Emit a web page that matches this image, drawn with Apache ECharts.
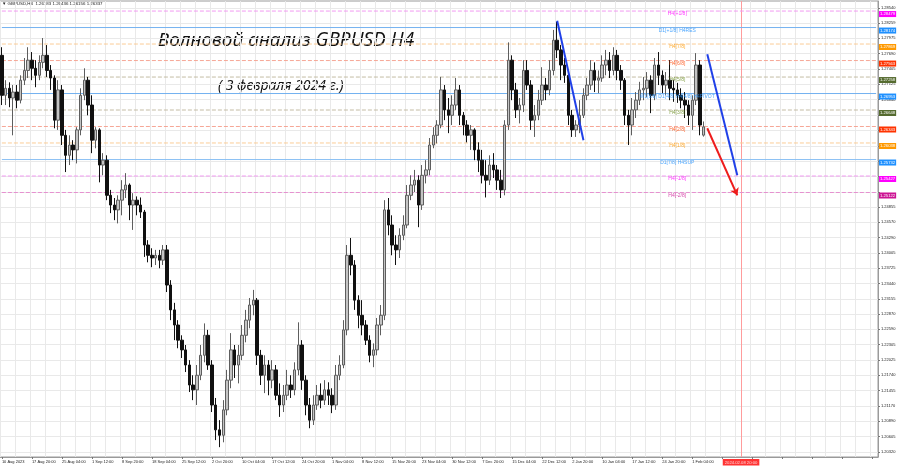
<!DOCTYPE html>
<html><head><meta charset="utf-8">
<script src="https://cdn.jsdelivr.net/npm/echarts@6/dist/echarts.min.js"></script>
<style>html,body{margin:0;padding:0;background:#fff}#c{width:900px;height:468px}</style>
</head><body><div id="c"></div>
<script>
// ---- data ----
const xLabels = ['10 Aug 2023','17 Aug 20:00','25 Aug 04:00','1 Sep 12:00','8 Sep 20:00','18 Sep 04:00','25 Sep 12:00','2 Oct 20:00','10 Oct 04:00','17 Oct 12:00','24 Oct 20:00','1 Nov 04:00','8 Nov 12:00','15 Nov 20:00','23 Nov 04:00','30 Nov 12:00','7 Dec 20:00','15 Dec 04:00','22 Dec 12:00','2 Jan 20:00','10 Jan 04:00','17 Jan 12:00','24 Jan 20:00','1 Feb 04:00'];
const futureMarkLabel = '2024.02.08 20:00';
const futureMarkIndex = 197;
const totalSlots = 234;
const priceMin = 1.20228;
const priceMax = 1.28665;

const opens = [1.2766,1.2692,1.2705,1.2687,1.2698,1.2683,1.2720,1.2738,1.2757,1.2742,1.2729,1.2753,1.2766,1.2738,1.2724,1.2646,1.2702,1.2618,1.2581,1.2600,
1.2591,1.2628,1.2692,1.2720,1.2674,1.2609,1.2628,1.2563,1.2572,1.2507,1.2489,1.2480,1.2498,1.2517,1.2526,1.2489,1.2498,1.2489,1.2476,1.2415,
1.2396,1.2391,1.2396,1.2387,1.2406,1.2341,1.2295,1.2267,1.2239,1.2221,1.2193,1.2156,1.2147,1.2174,1.2211,1.2248,1.2193,1.2119,1.2073,1.2063,
1.2110,1.2165,1.2221,1.2193,1.2211,1.2248,1.2276,1.2304,1.2313,1.2211,1.2174,1.2193,1.2165,1.2184,1.2137,1.2119,1.2137,1.2156,1.2147,1.2184,
1.2230,1.2165,1.2119,1.2091,1.2119,1.2137,1.2128,1.2147,1.2137,1.2119,1.2174,1.2193,1.2258,1.2396,1.2378,1.2313,1.2285,1.2267,1.2239,1.2211,
1.2221,1.2267,1.2285,1.2480,1.2452,1.2415,1.2406,1.2433,1.2452,1.2507,1.2526,1.2535,1.2489,1.2544,1.2554,1.2600,1.2618,1.2637,1.2702,1.2665,
1.2655,1.2674,1.2702,1.2655,1.2637,1.2618,1.2628,1.2591,1.2572,1.2544,1.2535,1.2563,1.2554,1.2535,1.2517,1.2637,1.2757,1.2702,1.2665,1.2674,
1.2738,1.2711,1.2646,1.2655,1.2683,1.2711,1.2702,1.2738,1.2794,1.2776,1.2748,1.2729,1.2655,1.2628,1.2637,1.2655,1.2692,1.2711,1.2738,1.2720,
1.2724,1.2748,1.2757,1.2738,1.2766,1.2738,1.2720,1.2655,1.2637,1.2665,1.2683,1.2702,1.2705,1.2720,1.2692,1.2748,1.2729,1.2711,1.2720,1.2705,
1.2702,1.2692,1.2683,1.2674,1.2655,1.2683,1.2748,1.26183];
const closes = [1.2692,1.2705,1.2687,1.2698,1.2683,1.2720,1.2738,1.2757,1.2742,1.2729,1.2753,1.2766,1.2738,1.2724,1.2646,1.2702,1.2618,1.2581,1.2600,1.2591,
1.2628,1.2692,1.2720,1.2674,1.2609,1.2628,1.2563,1.2572,1.2507,1.2489,1.2480,1.2498,1.2517,1.2526,1.2489,1.2498,1.2489,1.2476,1.2415,1.2396,
1.2391,1.2396,1.2387,1.2406,1.2341,1.2295,1.2267,1.2239,1.2221,1.2193,1.2156,1.2147,1.2174,1.2211,1.2248,1.2193,1.2119,1.2073,1.2063,1.2110,
1.2165,1.2221,1.2193,1.2211,1.2248,1.2276,1.2304,1.2313,1.2211,1.2174,1.2193,1.2165,1.2184,1.2137,1.2119,1.2137,1.2156,1.2147,1.2184,1.2230,
1.2165,1.2119,1.2091,1.2119,1.2137,1.2128,1.2147,1.2137,1.2119,1.2174,1.2193,1.2258,1.2396,1.2378,1.2313,1.2285,1.2267,1.2239,1.2211,1.2221,
1.2267,1.2285,1.2480,1.2452,1.2415,1.2406,1.2433,1.2452,1.2507,1.2526,1.2535,1.2489,1.2544,1.2554,1.2600,1.2618,1.2637,1.2702,1.2665,1.2655,
1.2674,1.2702,1.2655,1.2637,1.2618,1.2628,1.2591,1.2572,1.2544,1.2535,1.2563,1.2554,1.2535,1.2517,1.2637,1.2757,1.2702,1.2665,1.2674,1.2738,
1.2711,1.2646,1.2655,1.2683,1.2711,1.2702,1.2738,1.2794,1.2776,1.2748,1.2729,1.2655,1.2628,1.2637,1.2655,1.2692,1.2711,1.2738,1.2720,1.2724,
1.2748,1.2757,1.2738,1.2766,1.2738,1.2720,1.2655,1.2637,1.2665,1.2683,1.2702,1.2705,1.2720,1.2692,1.2748,1.2729,1.2711,1.2720,1.2705,1.2702,
1.2692,1.2683,1.2674,1.2655,1.2683,1.2748,1.2637,1.26337];
const lows = [1.2674,1.2674,1.2670,1.2618,1.2668,1.2677,1.2711,1.2724,1.2720,1.2707,1.2720,1.2742,1.2726,1.2702,1.2631,1.2628,1.2600,1.2550,1.2563,1.2572,
1.2566,1.2618,1.2683,1.2655,1.2585,1.2594,1.2531,1.2544,1.2498,1.2474,1.2461,1.2455,1.2470,1.2502,1.2461,1.2443,1.2470,1.2465,1.2393,1.2383,
1.2374,1.2378,1.2372,1.2378,1.2328,1.2276,1.2239,1.2224,1.2206,1.2180,1.2143,1.2128,1.2119,1.2165,1.2198,1.2184,1.2106,1.2054,1.2041,1.2050,
1.2100,1.2150,1.2169,1.2159,1.2202,1.2235,1.2261,1.2285,1.2193,1.2156,1.2141,1.2137,1.2150,1.2128,1.2097,1.2106,1.2128,1.2132,1.2137,1.2174,
1.2147,1.2100,1.2076,1.2082,1.2110,1.2113,1.2119,1.2119,1.2104,1.2110,1.2165,1.2187,1.2248,1.2359,1.2295,1.2261,1.2248,1.2230,1.2198,1.2189,
1.2211,1.2248,1.2276,1.2433,1.2396,1.2378,1.2391,1.2424,1.2446,1.2498,1.2513,1.2448,1.2480,1.2529,1.2544,1.2594,1.2603,1.2631,1.2646,1.2622,
1.2637,1.2665,1.2637,1.2618,1.2605,1.2591,1.2572,1.2550,1.2529,1.2503,1.2526,1.2539,1.2517,1.2502,1.2507,1.2628,1.2683,1.2650,1.2640,1.2661,
1.2702,1.2628,1.2615,1.2646,1.2674,1.2683,1.2692,1.2729,1.2761,1.2720,1.2715,1.2637,1.2615,1.2615,1.2622,1.2650,1.2683,1.2702,1.2698,1.2696,
1.2717,1.2729,1.2724,1.2729,1.2720,1.2702,1.2637,1.2600,1.2618,1.2650,1.2674,1.2683,1.2689,1.2659,1.2683,1.2711,1.2696,1.2692,1.2683,1.2680,
1.2678,1.2668,1.2650,1.2637,1.2628,1.2674,1.2618,1.26156];
const highs = [1.2781,1.2720,1.2716,1.2711,1.2711,1.2729,1.2761,1.2781,1.2772,1.2757,1.2766,1.2798,1.2785,1.2748,1.2729,1.2720,1.2711,1.2628,1.2618,1.2609,
1.2633,1.2705,1.2742,1.2726,1.2692,1.2633,1.2631,1.2585,1.2581,1.2517,1.2502,1.2507,1.2535,1.2548,1.2529,1.2511,1.2505,1.2503,1.2480,1.2424,
1.2409,1.2406,1.2406,1.2415,1.2415,1.2350,1.2308,1.2276,1.2248,1.2230,1.2202,1.2174,1.2193,1.2230,1.2270,1.2258,1.2202,1.2132,1.2091,1.2128,
1.2184,1.2252,1.2230,1.2230,1.2267,1.2295,1.2317,1.2332,1.2317,1.2221,1.2211,1.2202,1.2202,1.2193,1.2159,1.2156,1.2184,1.2174,1.2198,1.2272,
1.2239,1.2174,1.2132,1.2137,1.2156,1.2159,1.2165,1.2161,1.2150,1.2193,1.2211,1.2276,1.2415,1.2428,1.2387,1.2322,1.2313,1.2276,1.2248,1.2233,
1.2280,1.2304,1.2498,1.2502,1.2470,1.2433,1.2446,1.2470,1.2526,1.2544,1.2554,1.2544,1.2563,1.2572,1.2613,1.2633,1.2646,1.2726,1.2711,1.2687,
1.2692,1.2724,1.2711,1.2661,1.2646,1.2637,1.2631,1.2605,1.2591,1.2572,1.2581,1.2585,1.2563,1.2554,1.2646,1.2790,1.2766,1.2715,1.2687,1.2757,
1.2757,1.2720,1.2674,1.2702,1.2744,1.2724,1.2757,1.2813,1.2828,1.2785,1.2761,1.2738,1.2665,1.2646,1.2683,1.2705,1.2724,1.2757,1.2753,1.2738,
1.2766,1.2776,1.2772,1.2781,1.2776,1.2748,1.2724,1.2665,1.2687,1.2698,1.2717,1.2726,1.2735,1.2729,1.2761,1.2772,1.2738,1.2735,1.2757,1.2720,
1.2715,1.2705,1.2698,1.2683,1.2692,1.2770,1.2757,1.26436];

const priceTicks = [1.20320,1.20605,1.20890,1.21170,1.21455,1.21740,1.22025,1.22305,1.22590,1.22870,1.23155,1.23440,1.23725,1.24005,1.24290,1.24570,1.24855,1.25135,1.25420,1.25700,1.25985,1.26270,1.26555,1.26840,1.27125,1.27405,1.27690,1.27975,1.28259,1.28540];
const priceLabels = [1.20320,1.20605,1.20890,1.21170,1.21455,1.21740,1.22025,1.22305,1.22590,1.22870,1.23155,1.23440,1.23725,1.24005,1.24290,1.24570,1.24855,1.26555,1.26840,1.27125,1.27405,1.27690,1.27975,1.28259,1.28540];

const levelPrices = [1.28479,1.28174,1.27869,1.27563,1.27258,1.26953,1.26648,1.26343,1.26038,1.25732,1.25427,1.25122];
const levelNames = ['H4[+1/8]','D1[+1/8] H4RES','H4[7/8]','H4[6/8]','H4[5/8]','W1[8/8] D1[4/8] H4[4/8] H4PIVOT','H4[3/8]','H4[2/8]','H4[1/8]','D1[7/8] H4SUP','H4[-1/8]','H4[-2/8]'];
const levelNameIndex = 180;

const trendBlue1 = [[148.0, 1.2830], [155.4, 1.2609]];
const trendBlue2 = [[187.8, 1.2768], [195.6, 1.2544]];
const trendRed = [[187.6, 1.2631], [196.2, 1.2507]];

const headerText = '\u25BC GBPUSD,H4  1.26183 1.26436 1.26156 1.26337';
const titleText = 'Волновой анализ GBPUSD H4';
const subTitleText = '( 3 февраля 2024 г.)';

// ---- styles ----
const levelLineColors = ['#f29af2','#74b2f0','#fbcc96','#f6a696','#c4bca4','#74b2f0','#c4bca4','#f6a696','#fbcc96','#8ec2f4','#f29af2','#e690d0'];
const levelLineTypes = ['dashed','solid','dashed','dashed','dashed','solid','dashed','dashed','dashed','solid','dashed','dashed'];
const levelBoxColors = ['#ff00ff','#1e90ff','#ff9900','#ff3300','#556b2f','#1e90ff','#556b2f','#ff3300','#ff9900','#1e90ff','#ff00ff','#cc1493'];
const levelTextColors = ['#ff00ff','#1e90ff','#ff9900','#ff4500','#6b8e23','#1e90ff','#6b8e23','#ff4500','#ff9900','#1e90ff','#ff00ff','#cc1493'];
const smallFont = '"Liberation Sans", Arial, sans-serif';

const categories = [];
for (let i = 0; i < totalSlots; i++) categories.push(String(i));
const ohlc = opens.map((o, i) => [o, closes[i], lows[i], highs[i]]);

const rich = {};
levelBoxColors.forEach((c, i) => {
  rich['l' + i] = {color: '#ffffff', backgroundColor: c, fontSize: 4.2, fontFamily: smallFont, padding: [1, 1, 1, 1]};
});

const levelSeries = levelPrices.map((p, i) => ({
  type: 'line', silent: true, symbol: 'none', z: 1, animation: false,
  data: [[0, p], [totalSlots - 1, p]],
  lineStyle: {color: levelLineColors[i], type: levelLineTypes[i], width: 1}
}));

const chart = echarts.init(document.getElementById('c'), null, {renderer: 'canvas'});

const option = {
  animation: false,
  backgroundColor: '#ffffff',
  grid: {left: 0, right: 22, top: 1, bottom: 11, show: true, borderColor: '#9a9a9a', borderWidth: 1, outerBoundsMode: 'none', containLabel: false},
  xAxis: {
    type: 'category', data: categories, boundaryGap: true,
    axisLine: {show: true, lineStyle: {color: '#9a9a9a'}},
    axisTick: {show: true, interval: (i) => i % 8 === 0, length: 2, lineStyle: {color: '#777'}, alignWithLabel: true},
    axisLabel: {show: true, interval: (i) => i % 8 === 0, formatter: (v, i) => xLabels[i / 8] || '', align: 'left',
      fontSize: 4, color: '#222', fontFamily: smallFont, margin: 3, showMinLabel: true, hideOverlap: false},
    splitLine: {show: true, interval: (i) => i % 4 === 0, lineStyle: {color: '#e9e9e9', width: 1}}
  },
  yAxis: [{
    type: 'value', position: 'right', min: priceMin, max: priceMax,
    axisLine: {show: true, lineStyle: {color: '#9a9a9a'}},
    axisTick: {show: true, customValues: priceTicks, length: 2, lineStyle: {color: '#777'}},
    axisLabel: {show: true, customValues: priceLabels, formatter: (v) => v.toFixed(5), fontSize: 4, color: '#222', fontFamily: smallFont, margin: 3, hideOverlap: false},
    splitLine: {show: true, lineStyle: {color: '#e9e9e9', width: 1}}
  }, {
    type: 'value', position: 'right', min: priceMin, max: priceMax,
    axisLine: {show: false}, axisTick: {show: false}, splitLine: {show: false},
    axisLabel: {show: true, customValues: levelPrices, margin: 1, hideOverlap: false, verticalAlign: 'top',
      formatter: (v) => {
        let k = 0, best = 1;
        levelPrices.forEach((p, i) => { if (Math.abs(p - v) < best) { best = Math.abs(p - v); k = i; } });
        return '{l' + k + '|' + levelPrices[k].toFixed(5) + '}';
      }, rich: rich}
  }],
  graphic: [
    {type: 'text', left: 2, top: 2, style: {text: headerText, font: '4.4px ' + smallFont, fill: '#222'}},
    {type: 'text', left: 158, top: 31, style: {text: titleText, font: 'italic 19px "Noto Sans"', fill: '#111'}},
    {type: 'text', left: 218, top: 79, style: {text: subTitleText, font: 'italic 14px "Noto Sans"', fill: '#111'}}
  ],
  series: levelSeries.concat([
    {
      type: 'lines', coordinateSystem: 'cartesian2d', silent: true, symbol: ['none', 'none'], z: 1,
      lineStyle: {color: '#ff9c9c', width: 1, opacity: 1},
      data: [{coords: [[futureMarkIndex, priceMin], [futureMarkIndex, priceMax]]}]
    },
    {
      type: 'candlestick', data: ohlc, barWidth: 3, z: 3,
      itemStyle: {color: '#c4c4c4', color0: '#111111', borderColor: '#5e5e5e', borderColor0: '#111111', borderWidth: 1}
    },
    {
      type: 'scatter', symbolSize: 0, silent: true, z: 4,
      data: levelNames.map((n, i) => ({value: [levelNameIndex, levelPrices[i]], name: n,
        label: {color: levelTextColors[i]}})),
      label: {show: true, position: 'inside', offset: [0, 3], formatter: (p) => p.name, fontSize: 5, fontFamily: smallFont}
    },
    {
      type: 'scatter', symbolSize: 0, silent: true, clip: false, z: 4,
      data: [{value: [futureMarkIndex, priceMin], name: futureMarkLabel}],
      label: {show: true, position: 'bottom', distance: 2, formatter: (p) => p.name, color: '#fff', backgroundColor: '#ff0000',
        fontSize: 4.2, fontFamily: smallFont, padding: [1.5, 2, 1, 2]}
    },
    {
      type: 'lines', coordinateSystem: 'cartesian2d', silent: true, symbol: ['none', 'none'], z: 5,
      lineStyle: {color: '#2040e8', width: 2, opacity: 1},
      data: [{coords: trendBlue1}, {coords: trendBlue2}]
    },
    {
      type: 'lines', coordinateSystem: 'cartesian2d', silent: true, symbol: ['none', 'arrow'], symbolSize: 7, z: 5,
      lineStyle: {color: '#ee1c1c', width: 2, opacity: 1},
      data: [{coords: trendRed}]
    }
  ])
};
chart.setOption(option);
</script></body></html>
